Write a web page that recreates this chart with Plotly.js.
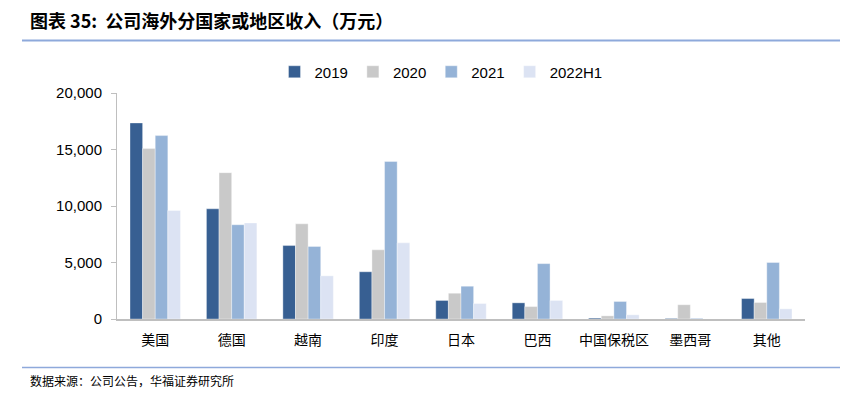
<!DOCTYPE html>
<html>
<head>
<meta charset="utf-8">
<script src="https://cdn.plot.ly/plotly-3.0.1.min.js"></script>
<style>body{margin:0;background:#fff;}#chart{width:841px;height:398px;}</style>
</head>
<body>
<div id="chart"></div>
<script>
const categories = ["美国","德国","越南","印度","日本","巴西","中国保税区","墨西哥","其他"];
const seriesNames = ["2019","2020","2021","2022H1"];
const v2019   = [17350, 9750, 6500, 4180, 1640, 1430,   80,   50, 1810];
const v2020   = [15080, 12950, 8420, 6120, 2280, 1100,  280, 1260, 1460];
const v2021   = [16230, 8340, 6420, 13940, 2900, 4900, 1550,   60, 5000];
const v2022H1 = [9600, 8500, 3820, 6740, 1370, 1640,  370,    0,  900];
const colors = ["#375F92","#C9C9C9","#95B3D7","#DCE3F3"];
const allValues = [v2019, v2020, v2021, v2022H1];

const traces = allValues.map((vals, i) => ({
  type: "bar",
  name: seriesNames[i],
  x: categories,
  y: vals,
  marker: {color: colors[i], line: {color: "rgba(255,255,255,0.6)", width: 0.6}},
  hoverinfo: "none"
}));

const L = 117, R = 805, T = 93, B = 319.5;
const W = R - L, H = B - T;
const px = x => (x - L) / W;
const py = y => (B - y) / H;

const layout = {
  width: 841, height: 398,
  margin: {l: L, r: 841 - R, t: T, b: 398 - B, pad: 0},
  paper_bgcolor: "#fff", plot_bgcolor: "#fff",
  barmode: "group", bargap: 0.34, bargroupgap: 0,
  showlegend: true,
  legend: {orientation: "h", x: px(441), xanchor: "center", y: py(72), yanchor: "middle",
           font: {family: "Liberation Sans, Arial, sans-serif", size: 15, color: "#000"},
           itemwidth: 30, traceorder: "normal"},
  xaxis: {showline: true, linecolor: "#BFBFBF", linewidth: 1.5, ticks: "", showgrid: false,
          ticklabelstandoff: 8,
          tickfont: {family: "Noto Sans CJK SC, sans-serif", size: 14, color: "#000"}, automargin: false},
  yaxis: {range: [0, 20000], dtick: 5000, tickformat: ",d", showline: true, linecolor: "#BFBFBF", linewidth: 1,
          ticks: "outside", ticklen: 5, tickcolor: "#BFBFBF", showgrid: false, zeroline: false,
          ticklabelstandoff: 6,
          tickfont: {family: "Liberation Sans, Arial, sans-serif", size: 15, color: "#000"}, automargin: false},
  shapes: [
    {type: "line", xref: "paper", yref: "paper", x0: px(22), x1: px(840), y0: py(40.5), y1: py(40.5),
     line: {color: "#8EA9DB", width: 2}},
    {type: "line", xref: "paper", yref: "paper", x0: px(22), x1: px(840), y0: py(368), y1: py(368),
     line: {color: "#8EA9DB", width: 1.5}}
  ],
  annotations: [
    {xref: "paper", yref: "paper", x: px(28), y: py(20), xanchor: "left", yanchor: "middle", showarrow: false,
     text: "<b>图表 35:  公司海外分国家或地区收入（万元）</b>",
     font: {family: "Noto Sans CJK SC, sans-serif", size: 18, color: "#000"}},
    {xref: "paper", yref: "paper", x: px(28), y: py(381), xanchor: "left", yanchor: "middle", showarrow: false,
     text: "数据来源：公司公告，华福证券研究所",
     font: {family: "Noto Sans CJK SC, sans-serif", size: 12, color: "#000"}}
  ]
};

Plotly.newPlot("chart", traces, layout, {displayModeBar: false, staticPlot: true});
</script>
</body>
</html>
